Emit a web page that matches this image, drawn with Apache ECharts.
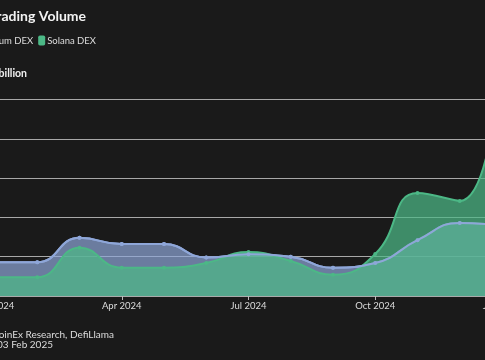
<!DOCTYPE html>
<html><head><meta charset="utf-8">
<script src="https://cdn.jsdelivr.net/npm/echarts@6/dist/echarts.min.js"></script>
<style>html,body{margin:0;padding:0;background:#1a1a1a}#c{width:485px;height:360px}</style>
</head><body><div id="c"></div>
<script>
const months = ['Jan 2024','Feb 2024','Mar 2024','Apr 2024','May 2024','Jun 2024','Jul 2024','Aug 2024','Sep 2024','Oct 2024','Nov 2024','Dec 2024','Jan 2025'];
const ethereum = [43, 43, 74, 66, 66, 49, 53, 50, 36, 42, 71, 93, 89];
const solana = [24, 24, 61.5, 36, 36, 42, 56, 44.5, 27, 53.5, 131, 121, 325];
const yTicks = [0, 50, 100, 150, 200, 250];

const FONT = 'Lato, "Noto Sans", sans-serif';
const W = 485;
const chart = echarts.init(document.getElementById('c'), null, {renderer:'canvas'});
const blue = '#8ea6d8', green = '#4cb886';
chart.setOption({
  backgroundColor: '#1a1a1a',
  animation: false,
  title: [
    {text: 'DEX Trading Volume', right: W - 86, top: 9, padding: 0,
     textStyle: {color: '#f2f2f2', fontSize: 14, fontWeight: 'bold', fontFamily: FONT}},
    {text: 'USD billion', right: W - 27, top: 68.5, padding: 0,
     textStyle: {color: '#f2f2f2', fontSize: 10.5, fontWeight: 'bold', fontFamily: FONT}},
    {text: 'Source: CoinEx Research, DefiLlama', right: W - 114, top: 330, padding: 0,
     textStyle: {color: '#dddddd', fontSize: 10, fontWeight: 'normal', fontFamily: FONT}},
    {text: 'Updated: 03 Feb 2025', right: W - 53, top: 340, padding: 0,
     textStyle: {color: '#dddddd', fontSize: 10, fontWeight: 'normal', fontFamily: FONT}}
  ],
  legend: {
    data: [{name:'Ethereum DEX', itemStyle:{color: blue}}, {name:'Solana DEX', itemStyle:{color: green}}],
    orient: 'horizontal', right: W - 96, top: 35.5, width: 400, padding: 0,
    itemWidth: 7, itemHeight: 10, itemGap: 5, icon: 'roundRect',
    textStyle: {color: '#dddddd', fontSize: 9.5, fontFamily: FONT, padding: [0, 0, 0, -3]}
  },
  grid: {left: -5, right: -17, top: 99.5, bottom: 64, containLabel: false, outerBoundsMode: 'none'},
  xAxis: {
    type: 'category', data: months, boundaryGap: false,
    axisLine: {lineStyle: {color: '#aaaaaa'}},
    axisTick: {interval: 2, length: 4, lineStyle: {color: '#bbbbbb'}},
    axisLabel: {interval: 2, color: '#dddddd', fontSize: 9.5, fontFamily: FONT, margin: 5}
  },
  yAxis: {
    type: 'value', min: yTicks[0], max: yTicks[yTicks.length-1], interval: 50,
    axisLabel: {show: false}, axisLine: {show: false}, axisTick: {show: false},
    splitLine: {lineStyle: {color: '#a8a8a8', width: 1}}
  },
  series: [
    {name: 'Ethereum DEX', type: 'line', data: ethereum, smooth: true, symbol: 'circle', symbolSize: 4,
     lineStyle: {color: blue, width: 2}, itemStyle: {color: blue}, clip: true,
     areaStyle: {color: blue, opacity: 0.7}, z: 2},
    {name: 'Solana DEX', type: 'line', data: solana, smooth: true, symbol: 'circle', symbolSize: 4,
     lineStyle: {color: green, width: 2}, itemStyle: {color: green}, clip: true,
     areaStyle: {color: green, opacity: 0.72}, z: 3},
    {name: 'Ethereum DEX', type: 'line', data: ethereum, smooth: true, symbol: 'circle', symbolSize: 4,
     lineStyle: {color: blue, width: 2}, itemStyle: {color: blue}, clip: true, z: 4}
  ]
});
</script></body></html>
